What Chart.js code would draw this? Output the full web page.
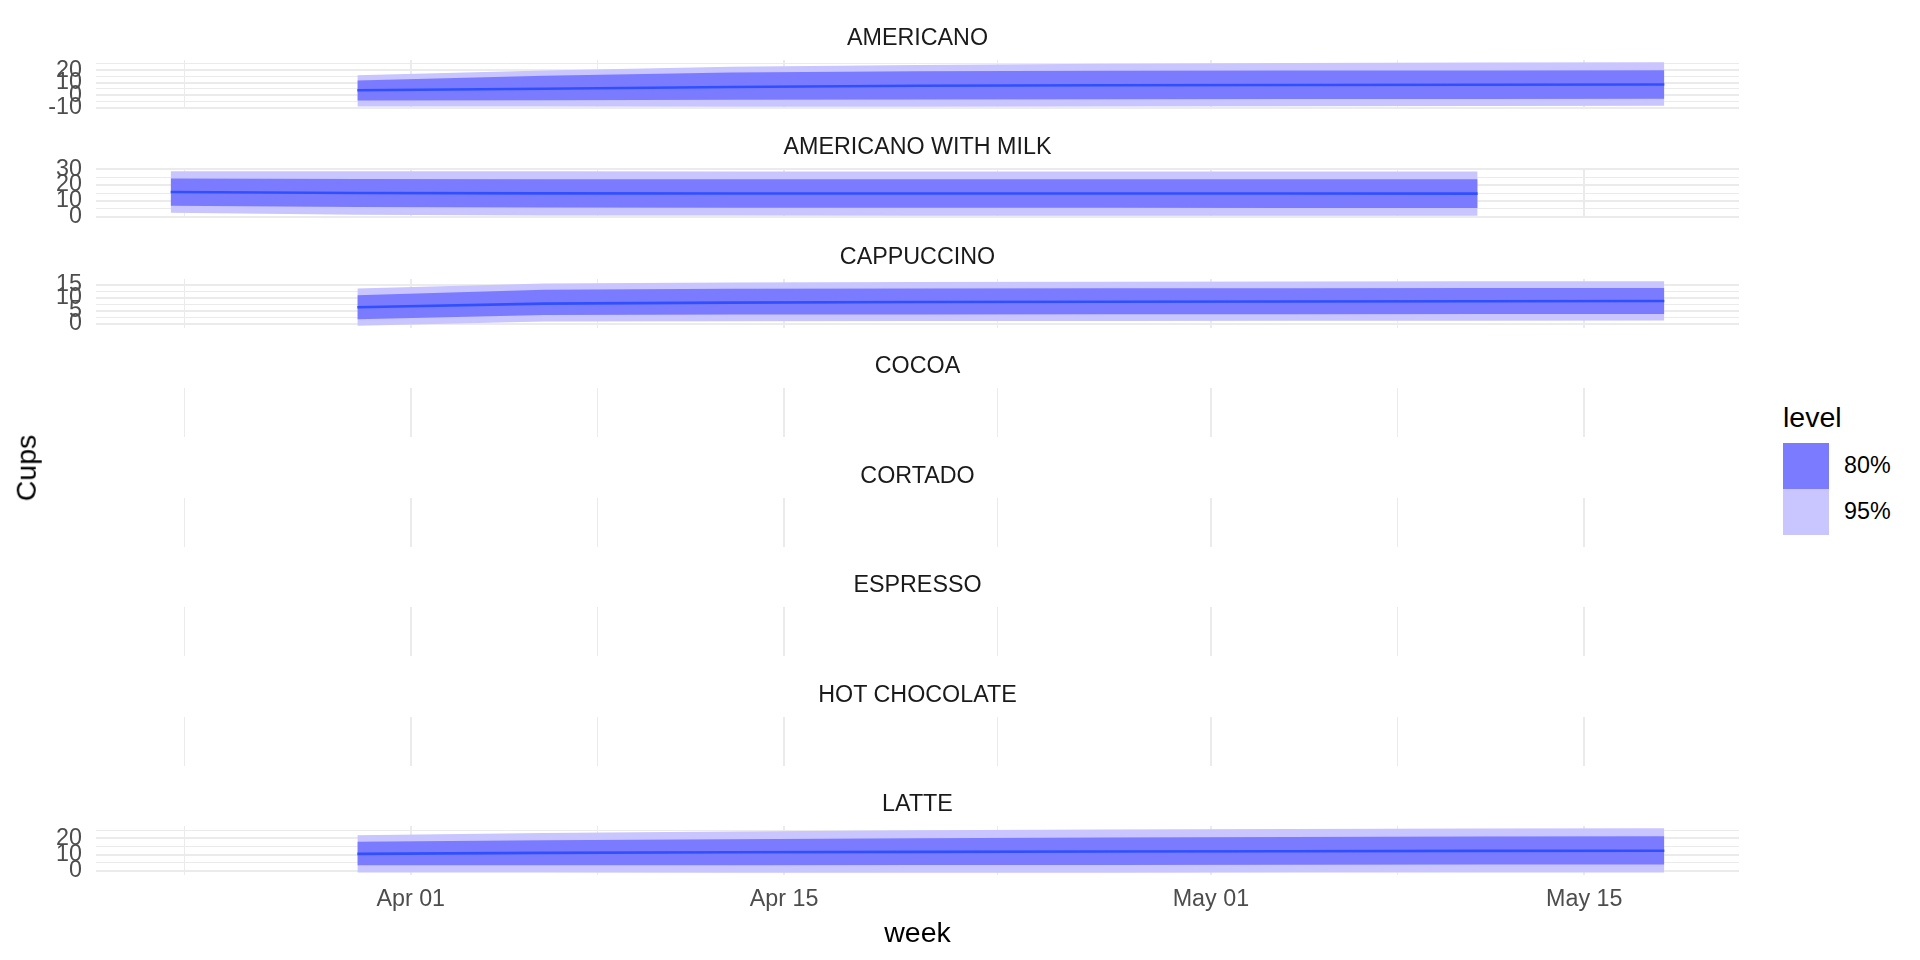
<!DOCTYPE html>
<html>
<head>
<meta charset="utf-8">
<script src="https://cdn.jsdelivr.net/npm/chart.js@4.4.1/dist/chart.umd.min.js"></script>
<style>
  html, body { margin:0; padding:0; background:#ffffff; width:1920px; height:960px; overflow:hidden;
    font-family:"Liberation Sans", Arial, Helvetica, sans-serif; }
  canvas { position:absolute; left:0; }
  .t { position:absolute; white-space:nowrap; line-height:1; }
</style>
</head>
<body>
<script>
// ---------------- data ----------------
const drinks = ['AMERICANO', 'AMERICANO WITH MILK', 'CAPPUCCINO', 'COCOA', 'CORTADO', 'ESPRESSO', 'HOT CHOCOLATE', 'LATTE'];

const weeksMar30 = ['2020-03-30', '2020-04-06', '2020-04-13', '2020-04-20', '2020-04-27', '2020-05-04', '2020-05-11', '2020-05-18'];
const weeksMar23 = ['2020-03-23', '2020-03-30', '2020-04-06', '2020-04-13', '2020-04-20', '2020-04-27', '2020-05-04', '2020-05-11'];

const americanoMean = [4.0, 5.2, 6.5, 7.5, 8.0, 8.2, 8.4, 8.6];
const americanoHi80 = [11.8, 15.6, 18.2, 19.1, 19.5, 19.7, 19.8, 19.9];
const americanoLo80 = [-4.3, -4.0, -3.6, -3.4, -3.2, -3.1, -3.0, -2.9];
const americanoHi95 = [15.9, 19.7, 22.6, 24.0, 25.0, 25.6, 26.0, 26.3];
const americanoLo95 = [-8.9, -9.0, -9.2, -9.1, -8.9, -8.7, -8.5, -8.3];
const americanoTicks = [-10, 0, 10, 20];

const milkMean = [15.6, 15.0, 14.8, 14.7, 14.7, 14.7, 14.7, 14.6];
const milkHi80 = [24.2, 23.8, 23.7, 23.6, 23.6, 23.6, 23.6, 23.6];
const milkLo80 = [7.0, 6.2, 5.9, 5.8, 5.7, 5.7, 5.6, 5.6];
const milkHi95 = [28.7, 28.7, 28.7, 28.6, 28.6, 28.6, 28.5, 28.5];
const milkLo95 = [2.6, 1.3, 0.9, 0.8, 0.7, 0.7, 0.7, 0.7];
const milkTicks = [0, 10, 20, 30];

const cappuccinoMean = [6.3, 7.7, 8.1, 8.3, 8.4, 8.5, 8.6, 8.7];
const cappuccinoHi80 = [10.9, 13.0, 13.4, 13.5, 13.6, 13.6, 13.7, 13.7];
const cappuccinoLo80 = [1.7, 3.3, 3.5, 3.5, 3.6, 3.6, 3.7, 3.7];
const cappuccinoHi95 = [13.5, 15.4, 15.8, 16.0, 16.1, 16.2, 16.3, 16.3];
const cappuccinoLo95 = [-0.8, 0.8, 0.9, 1.0, 1.0, 1.1, 1.1, 1.2];
const cappuccinoTicks = [0, 5, 10, 15];

const latteMean = [10.5, 11.1, 11.5, 11.7, 11.9, 12.1, 12.3, 12.4];
const latteHi80 = [17.9, 18.8, 19.5, 20.1, 20.5, 20.9, 21.2, 21.3];
const latteLo80 = [3.5, 3.5, 3.5, 3.6, 3.7, 3.8, 3.9, 3.9];
const latteHi95 = [21.9, 23.3, 24.2, 24.9, 25.4, 25.8, 26.0, 26.2];
const latteLo95 = [-1.0, -1.0, -1.1, -1.1, -1.1, -1.0, -1.0, -1.0];
const latteTicks = [0, 10, 20];

const xMajorBreaks = ['2020-04-01', '2020-04-15', '2020-05-01', '2020-05-15'];
const xTickLabels = ['Apr 01', 'Apr 15', 'May 01', 'May 15'];
const xMinorBreaks = ['2020-03-23T12:00:00Z', '2020-04-08', '2020-04-23', '2020-05-08'];

const legendLevels = ['80%', '95%'];

// ---------------- styling ----------------
const FONT = '"Liberation Sans", Arial, Helvetica, sans-serif';
const C80 = '#7b7bff';
const C95 = '#c8c5ff';
const CLINE = '#3050ff';
const GRID = '#ebebeb';
const PANEL_TOP0 = 60, PITCH = 109.43, PANEL_H = 49;
const AREA_LEFT = 96, AREA_RIGHT = 1739;
const PAD = 26;
const SMALL = 23.3, BIG = 28.5;

const day = s => Date.parse(s.length === 10 ? s + 'T00:00:00Z' : s) / 86400000;
const majorDays = xMajorBreaks.map(day);
const minorDays = xMinorBreaks.map(day);
const allWeekDays = weeksMar30.concat(weeksMar23).map(day);
const xLo = Math.min(...allWeekDays), xHi = Math.max(...allWeekDays);
const xMin = xLo - 0.05 * (xHi - xLo), xMax = xHi + 0.05 * (xHi - xLo);

const panels = [
  {weeks: weeksMar30, mean: americanoMean, hi80: americanoHi80, lo80: americanoLo80, hi95: americanoHi95, lo95: americanoLo95, ticks: americanoTicks},
  {weeks: weeksMar23, mean: milkMean, hi80: milkHi80, lo80: milkLo80, hi95: milkHi95, lo95: milkLo95, ticks: milkTicks},
  {weeks: weeksMar30, mean: cappuccinoMean, hi80: cappuccinoHi80, lo80: cappuccinoLo80, hi95: cappuccinoHi95, lo95: cappuccinoLo95, ticks: cappuccinoTicks},
  null, null, null, null,
  {weeks: weeksMar30, mean: latteMean, hi80: latteHi80, lo80: latteLo80, hi95: latteHi95, lo95: latteLo95, ticks: latteTicks}
];

function addText(str, x, y, size, color, anchor, rotate) {
  const d = document.createElement('div');
  d.className = 't';
  d.textContent = str;
  d.style.left = x + 'px';
  d.style.top = y + 'px';
  d.style.fontSize = size + 'px';
  d.style.color = color;
  const tx = anchor === 'left' ? '0' : '-50%';
  d.style.transform = `translate(${tx},-50%)` + (rotate ? ` rotate(${rotate}deg)` : '');
  document.body.appendChild(d);
}

function near(list, v) { return list.some(a => Math.abs(a - v) < 1e-6); }

drinks.forEach((name, i) => {
  const spec = panels[i];
  const isLast = i === drinks.length - 1;
  const top = Math.round(PANEL_TOP0 + i * PITCH);
  const bottomExtra = isLast ? 60 : PAD;
  const h = PAD + PANEL_H + bottomExtra;
  const cv = document.createElement('canvas');
  cv.width = AREA_RIGHT; cv.height = h;
  cv.style.top = (top - PAD) + 'px';
  cv.style.width = AREA_RIGHT + 'px';
  cv.style.height = h + 'px';
  document.body.appendChild(cv);

  addText(name, (AREA_LEFT + AREA_RIGHT) / 2, top - 22, SMALL, '#1a1a1a', 'center');

  let datasets = [];
  let yOpts;
  if (spec) {
    const pts = arr => spec.weeks.map((w, k) => ({x: day(w), y: arr[k]}));
    const lo = Math.min(...spec.lo95, ...spec.lo80, ...spec.mean);
    const hi = Math.max(...spec.hi95, ...spec.hi80, ...spec.mean);
    const yMin = lo - 0.05 * (hi - lo), yMax = hi + 0.05 * (hi - lo);
    const step = spec.ticks[1] - spec.ticks[0];
    const cand = [];
    for (let v = spec.ticks[0] - step; v <= spec.ticks[spec.ticks.length - 1] + step + 1e-9; v += step / 2) cand.push(v);
    const yTickVals = cand.filter(v => v >= yMin && v <= yMax);
    const band = {borderWidth: 0, borderColor: 'rgba(0,0,0,0)', pointRadius: 0, tension: 0};
    datasets = [
      {data: pts(spec.mean), borderColor: CLINE, borderWidth: 2.6, pointRadius: 0, fill: false, tension: 0},
      Object.assign({data: pts(spec.hi80), backgroundColor: C80, fill: '+1'}, band),
      Object.assign({data: pts(spec.lo80), fill: false}, band),
      Object.assign({data: pts(spec.hi95), backgroundColor: C95, fill: '+1'}, band),
      Object.assign({data: pts(spec.lo95), fill: false}, band)
    ];
    yOpts = {
      type: 'linear', min: yMin, max: yMax, display: true,
      afterBuildTicks: s => { s.ticks = yTickVals.map(v => ({value: v})); },
      afterFit: s => { s.width = AREA_LEFT; s.paddingTop = 0; s.paddingBottom = 0; },
      ticks: {
        autoSkip: false, padding: 14, color: '#4d4d4d', font: {family: FONT, size: SMALL},
        callback: v => near(spec.ticks, v) ? String(Math.round(v)) : ''
      },
      grid: {color: GRID, drawTicks: false, lineWidth: c => (c.tick && near(spec.ticks, c.tick.value)) ? 2 : 1},
      border: {display: false}
    };
  } else {
    yOpts = {type: 'linear', min: 0, max: 1, display: false};
  }

  const xOpts = {
    type: 'linear', min: xMin, max: xMax, display: true,
    afterBuildTicks: s => { s.ticks = majorDays.concat(minorDays).sort((a, b) => a - b).map(v => ({value: v})); },
    afterFit: s => { s.height = isLast ? bottomExtra : 0; s.paddingLeft = 0; s.paddingRight = 0; },
    ticks: {
      display: isLast, autoSkip: false, maxRotation: 0, minRotation: 0, padding: 11,
      color: '#4d4d4d', font: {family: FONT, size: SMALL},
      callback: v => { const k = majorDays.findIndex(d => Math.abs(d - v) < 1e-6); return k >= 0 ? xTickLabels[k] : ''; }
    },
    grid: {color: GRID, drawTicks: false, lineWidth: c => (c.tick && near(majorDays, c.tick.value)) ? 2 : 1},
    border: {display: false}
  };

  new Chart(cv, {
    type: 'line',
    data: {datasets},
    options: {
      responsive: false, animation: false, devicePixelRatio: 1, events: [],
      layout: {autoPadding: false, padding: {top: PAD, bottom: isLast ? 0 : PAD, left: spec ? 0 : AREA_LEFT, right: 0}},
      plugins: {legend: {display: false}, tooltip: {enabled: false}, filler: {propagate: false}},
      scales: {x: xOpts, y: yOpts}
    }
  });
});

// axis titles
addText('week', (AREA_LEFT + AREA_RIGHT) / 2, 931.5, BIG, '#000000', 'center');
addText('Cups', 25.5, 468, BIG, '#000000', 'center', -90);

// legend
addText('level', 1783, 417, BIG, '#000000', 'left');
[C80, C95].forEach((col, k) => {
  const sw = document.createElement('div');
  sw.style.cssText = `position:absolute;left:1783px;top:${443 + 46 * k}px;width:46px;height:46px;background:${col};`;
  document.body.appendChild(sw);
  addText(legendLevels[k], 1844, 466 + 46 * k, SMALL, '#000000', 'left');
});
</script>
</body>
</html>
